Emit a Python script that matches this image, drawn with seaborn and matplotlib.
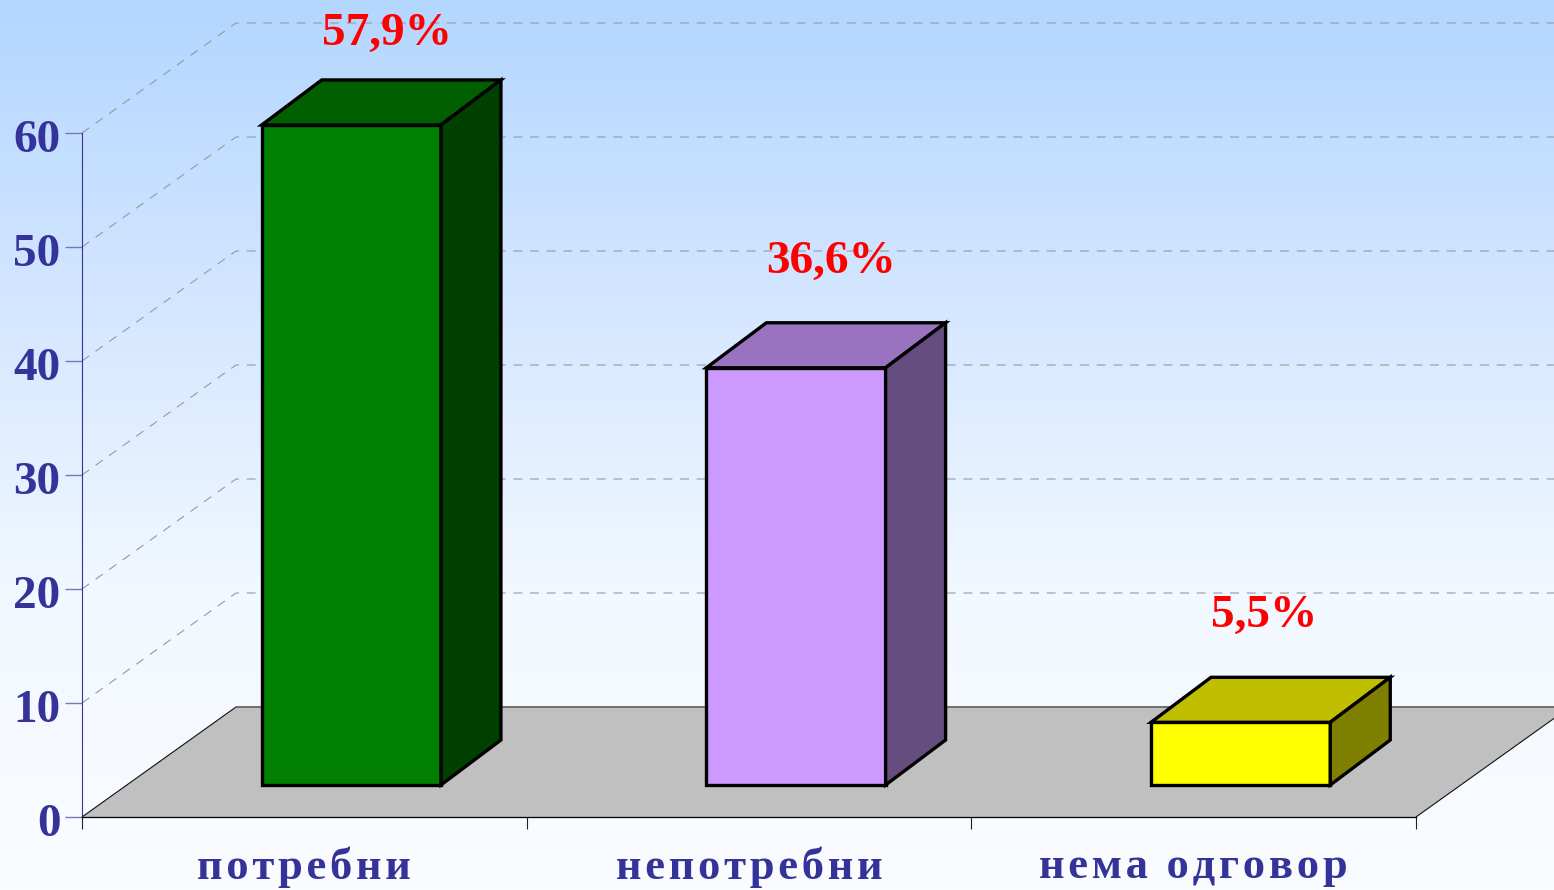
import numpy as np
import seaborn as sns
import matplotlib
matplotlib.use("Agg")
import matplotlib.pyplot as plt
from matplotlib.colors import LinearSegmentedColormap, to_rgb
from matplotlib.patches import Polygon
from matplotlib.transforms import IdentityTransform, Affine2D

categories = ["потребни", "непотребни", "нема одговор"]
values = [57.9, 36.6, 5.5]
value_labels = ["57,9%", "36,6%", "5,5%"]
bar_colors = ["#008000", "#CC99FF", "#FFFF00"]
y_ticks = [0, 10, 20, 30, 40, 50, 60]

W, H = 1554, 890
WALL_DX, WALL_DY = 154, 110      # depth of the chart box, px
BAR_DX, BAR_DY = 47, 32          # shift of the bars into the box, px
TOP_DX, TOP_DY = 60, 45          # depth of a bar, px
NAVY = "#333399"

sns.set_style("white")
plt.rcParams["font.family"] = ["Liberation Serif", "DejaVu Serif"]
plt.rcParams["font.weight"] = "bold"

fig = plt.figure(figsize=(W / 100, H / 100), dpi=100)

bg = fig.add_axes([0, 0, 1, 1], zorder=0)
cmap = LinearSegmentedColormap.from_list("bg", ["#B3D6FF", "#D3E6FF", "#F2F8FF", "#FAFCFF"])
bg.imshow(np.linspace(0, 1, 256)[:, None], aspect="auto", cmap=cmap, extent=(0, 1, 0, 1))
bg.axis("off")

ax = fig.add_axes([82 / W, (H - 817) / H, 1334 / W, 684 / H], zorder=1)
ax.patch.set_alpha(0)

sns.barplot(x=categories, y=values, hue=categories, palette=bar_colors, width=0.403,
            legend=False, saturation=1, edgecolor="black", linewidth=2.4, ax=ax, zorder=5)
ax.set_xlim(-0.5, 2.5)
ax.set_ylim(0, 60)
fig.canvas.draw()


def to_px(x, y):
    return ax.transData.transform((x, y))


px_id = IdentityTransform()

# floor
p0 = to_px(-0.5, 0)
p1 = to_px(2.5, 0)
floor = [p0, p0 + (WALL_DX, WALL_DY), p1 + (WALL_DX, WALL_DY), p1]
ax.add_patch(Polygon(floor, closed=True, transform=px_id, facecolor="#C0C0C0", edgecolor="none",
                     clip_on=False, zorder=1))
ax.plot([p0[0], p0[0] + WALL_DX], [p0[1], p0[1] + WALL_DY], color="#111111", lw=0.8,
        transform=px_id, clip_on=False, zorder=2)
ax.plot([p1[0], p1[0] + WALL_DX], [p1[1], p1[1] + WALL_DY], color="#111111", lw=0.8,
        transform=px_id, clip_on=False, zorder=2)
ax.plot([p0[0] + WALL_DX, W], [p0[1] + WALL_DY] * 2, color="#666666", lw=1.3,
        transform=px_id, clip_on=False, zorder=2)

# gridlines on the walls
for t in y_ticks[1:]:
    a = to_px(-0.5, t)
    b = a + (WALL_DX, WALL_DY)
    ax.plot([a[0], b[0], W], [a[1], b[1], b[1]], color="#999999", lw=0.8,
            linestyle=(0, (8, 7)), transform=px_id, clip_on=False, zorder=2)

# bars: shift the front faces and add top and side faces
for patch, value, label in zip(ax.patches[:], values, value_labels):
    if patch.get_height() == 0:
        continue
    x0, x1 = patch.get_x(), patch.get_x() + patch.get_width()
    color = np.array(to_rgb(patch.get_facecolor()[:3]))
    bl = to_px(x0, 0) + (BAR_DX, BAR_DY)
    br = to_px(x1, 0) + (BAR_DX, BAR_DY)
    tl = to_px(x0, value) + (BAR_DX, BAR_DY)
    tr = to_px(x1, value) + (BAR_DX, BAR_DY)
    d = np.array((TOP_DX, TOP_DY))
    patch.set_visible(False)
    style = dict(closed=True, transform=px_id, edgecolor="black", linewidth=2.4,
                 joinstyle="miter", clip_on=False, zorder=5)
    ax.add_patch(Polygon([bl, br, tr, tl], facecolor=color, **style))
    ax.add_patch(Polygon([tl, tr, tr + d, tl + d], facecolor=color * 0.75, **style))
    ax.add_patch(Polygon([br, br + d, tr + d, tr], facecolor=color * 0.5, **style))
    baseline = min(tl[1] + TOP_DY + 50, H - 45)
    ax.text(tl[0] + TOP_DX, baseline, label, color="#FF0000", fontsize=34,
            fontweight="bold", ha="left", va="baseline", transform=px_id, zorder=6,
            clip_on=False)

# axes
for s in ("top", "right"):
    ax.spines[s].set_visible(False)
ax.spines["left"].set_color(NAVY)
ax.spines["left"].set_linewidth(0.8)
ax.spines["bottom"].set_color("black")
ax.spines["bottom"].set_linewidth(0.9)
ax.spines["bottom"].set_zorder(3)
ax.set_yticks(y_ticks)
ax.set_yticklabels([str(t) for t in y_ticks], color=NAVY, fontsize=34, fontweight="bold")
ax.tick_params(axis="y", left=True, length=12, width=1, color="#7777BB", pad=3.5)
for lab in ax.get_yticklabels():
    lab.set_transform(lab.get_transform() + Affine2D().translate(0, -3))
ax.set_xticks(range(3))
ax.set_xticklabels(["\u200a".join(c) for c in categories], color=NAVY, fontsize=32,
                   fontweight="bold")
ax.set_xticks([-0.5, 0.5, 1.5, 2.5], minor=True)
ax.tick_params(axis="x", which="major", bottom=False, pad=18)
ax.tick_params(axis="x", which="minor", bottom=True, length=8.5, width=0.8, color="#222222")
ax.set_xlabel("")
ax.set_ylabel("")

fig.savefig("out.png", dpi=100)
